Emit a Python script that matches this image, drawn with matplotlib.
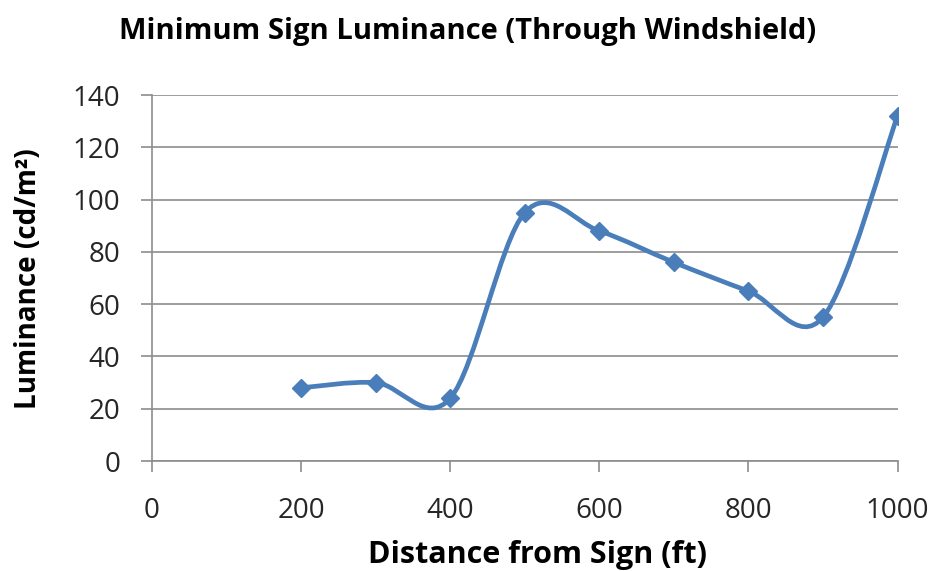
"""Minimum sign luminance seen through the windshield, Excel-style smoothed line."""

import matplotlib
matplotlib.use('Agg')
import matplotlib.pyplot as plt
from matplotlib.path import Path
from matplotlib.patches import PathPatch


DISTANCE_FT = [200, 300, 400, 500, 600, 700, 800, 900, 1000]
LUMINANCE = [28, 30, 24, 95, 88, 76, 65, 55, 132]
X_TICKS = [0, 200, 400, 600, 800, 1000]
Y_TICKS = [0, 20, 40, 60, 80, 100, 120, 140]

LINE_COLOR = '#4A7EBB'
GRID_COLOR = '#8C8C8C'
TEXT_COLOR = '#262626'

plt.rcParams['font.family'] = ['Open Sans', 'DejaVu Sans']


def smooth_path(xs, ys):
    """Bezier path through the points, like Excel's 'smoothed line'."""
    pts = list(zip(xs, ys))
    n = len(pts)
    verts = [pts[0]]
    codes = [Path.MOVETO]
    for i in range(n - 1):
        p0 = pts[max(i - 1, 0)]
        p1 = pts[i]
        p2 = pts[i + 1]
        p3 = pts[min(i + 2, n - 1)]
        c1 = (p1[0] + (p2[0] - p0[0]) / 6, p1[1] + (p2[1] - p0[1]) / 6)
        c2 = (p2[0] - (p3[0] - p1[0]) / 6, p2[1] - (p3[1] - p1[1]) / 6)
        verts += [c1, c2, p2]
        codes += [Path.CURVE4] * 3
    return Path(verts, codes)


def main():
    fig = plt.figure(figsize=(9.36, 5.71), dpi=100)
    ax = fig.add_axes([0.1624, 0.1926, 0.7965, 0.641])

    ax.add_patch(PathPatch(smooth_path(DISTANCE_FT, LUMINANCE), fill=False,
                           edgecolor=LINE_COLOR, lw=3.4, capstyle='round',
                           joinstyle='round', zorder=3))
    ax.plot(DISTANCE_FT, LUMINANCE, linestyle='none', marker='D',
            markersize=9, color=LINE_COLOR, zorder=4)

    ax.set_xlim(0, 1000)
    ax.set_ylim(0, 140)
    ax.set_xticks(X_TICKS)
    ax.set_yticks(Y_TICKS)
    ax.yaxis.grid(True, color=GRID_COLOR, lw=1.2)
    ax.set_axisbelow(True)

    for side in ('top', 'right'):
        ax.spines[side].set_visible(False)
    for side in ('left', 'bottom'):
        ax.spines[side].set_color(GRID_COLOR)
        ax.spines[side].set_linewidth(1.2)
    ax.tick_params(direction='out', length=8, width=1.2, color=GRID_COLOR,
                   labelsize=20, labelcolor=TEXT_COLOR)
    ax.tick_params(axis='x', pad=18)
    ax.tick_params(axis='y', pad=15)

    ax.set_xlabel('Distance from Sign (ft)', fontsize=22, fontweight='bold',
                  color='black', va='center')
    ax.xaxis.set_label_coords(0.517, -0.257)
    ax.set_ylabel('Luminance (cd/m²)', fontsize=20, fontweight='bold',
                  color='black', va='center')
    ax.yaxis.set_label_coords(-0.166, 0.497)
    fig.text(0.5, 0.944, 'Minimum Sign Luminance (Through Windshield)',
             fontsize=21, fontweight='bold', ha='center', va='center')

    fig.savefig('out.png', dpi=100)


if __name__ == '__main__':
    main()
